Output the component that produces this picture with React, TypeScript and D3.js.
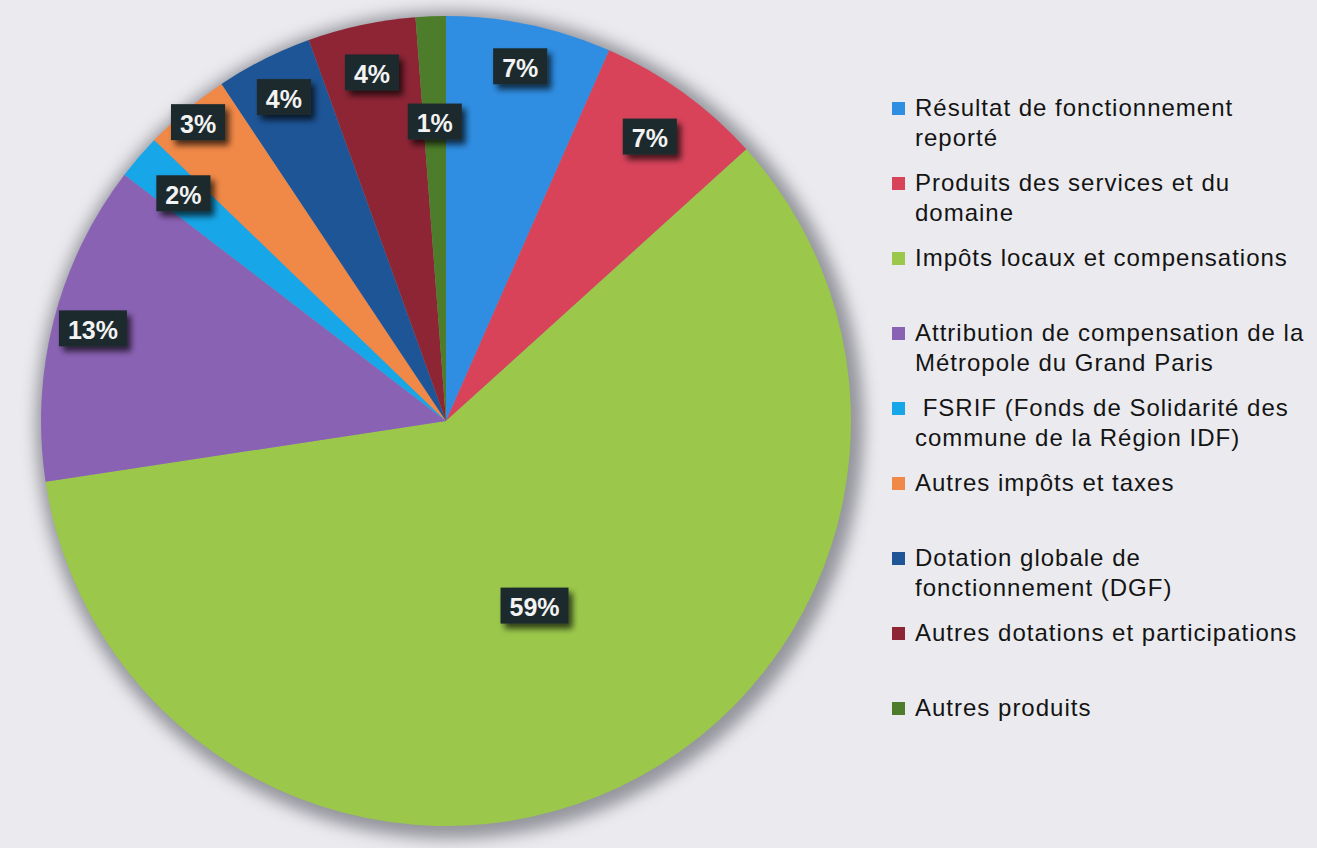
import * as d3 from "d3";

const categories = [
  "Résultat de fonctionnement reporté",
  "Produits des services et du domaine",
  "Impôts locaux et compensations",
  "Attribution de compensation de la Métropole du Grand Paris",
  "FSRIF (Fonds de Solidarité des commune de la Région IDF)",
  "Autres impôts et taxes",
  "Dotation globale de fonctionnement (DGF)",
  "Autres dotations et participations",
  "Autres produits",
];

// share of each slice
const values = [6.6, 6.7, 59.3, 12.8, 1.8, 3.45, 3.85, 4.3, 1.2];

const colors = [
  "#2f8de2",
  "#d8435a",
  "#9bc84b",
  "#8a62b4",
  "#17a6e8",
  "#f08847",
  "#1d5597",
  "#8d2535",
  "#4d7d2a",
];

// legend text, broken as in the original
const legendLines = [
  ["Résultat de fonctionnement", "reporté"],
  ["Produits des services et du", "domaine"],
  ["Impôts locaux et compensations"],
  ["Attribution de compensation de la", "Métropole du Grand Paris"],
  [" FSRIF (Fonds de Solidarité des", "commune de la Région IDF)"],
  ["Autres impôts et taxes"],
  ["Dotation globale de", "fonctionnement (DGF)"],
  ["Autres dotations et participations"],
  ["Autres produits"],
];

// label distance from centre, as a fraction of the radius (best-fit placement)
const labelRadius = [0.89, 0.86, 0.51, 0.9, 0.855, 0.955, 0.89, 0.875, 0.735];

const width = 1317;
const height = 848;
const cx = 446;
const cy = 421;
const radius = 405;
const font = "'Liberation Sans', Arial, sans-serif";

const total = d3.sum(values);
const pct = d3.format(".0%");

const pie = d3
  .pie<number>()
  .sort(null)
  .value((d) => d)
  .startAngle(0)
  .endAngle(2 * Math.PI);

const arc = d3.arc<d3.PieArcDatum<number>>().innerRadius(0).outerRadius(radius);

const legendX = 892;
const legendTop = 116;
const legendStep = 75;
const lineStep = 30;

export default function App() {
  const slices = pie(values);

  return (
    <div style={{ position: "fixed", left: 0, top: 0 }}>
      <svg width={width} height={height} style={{ display: "block" }}>
        <defs>
          <filter id="pieShadow" x="-20%" y="-20%" width="140%" height="140%">
            <feGaussianBlur stdDeviation="8" />
          </filter>
          <filter id="boxShadow" x="-30%" y="-30%" width="170%" height="170%">
            <feGaussianBlur in="SourceAlpha" stdDeviation="3" />
            <feOffset dx="4" dy="5" result="blur" />
            <feComponentTransfer>
              <feFuncA type="linear" slope="0.7" />
            </feComponentTransfer>
            <feMerge>
              <feMergeNode />
              <feMergeNode in="SourceGraphic" />
            </feMerge>
          </filter>
        </defs>

        <rect width={width} height={height} fill="#ebebef" />

        <circle
          cx={cx + 4}
          cy={cy + 4}
          r={radius + 9}
          fill="#85858e"
          opacity={0.85}
          filter="url(#pieShadow)"
        />

        <g transform={`translate(${cx},${cy})`}>
          {slices.map((s, i) => (
            <path key={categories[i]} d={arc(s) ?? ""} fill={colors[i]} />
          ))}

          {slices.map((s, i) => {
            const mid = (s.startAngle + s.endAngle) / 2;
            const r = labelRadius[i] * radius;
            const x = Math.sin(mid) * r;
            const y = -Math.cos(mid) * r;
            const text = pct(s.data / total);
            const fs = 25;
            const tw = fs * (0.556 * (text.length - 1) + 0.889);
            const bw = tw + 18;
            const bh = 36;
            return (
              <g key={`lbl-${i}`} transform={`translate(${x},${y})`}>
                <rect
                  x={-bw / 2}
                  y={-bh / 2 - 2}
                  width={bw}
                  height={bh}
                  fill="#1e2c2e"
                  filter="url(#boxShadow)"
                />
                <text
                  textAnchor="middle"
                  dy="0.35em"
                  fill="#f3f3f3"
                  fontFamily={font}
                  fontWeight="bold"
                  fontSize={fs}
                >
                  {text}
                </text>
              </g>
            );
          })}
        </g>

        <g fontFamily={font} fontSize={24} fill="#141414">
          {legendLines.map((lines, i) => {
            const base = legendTop + i * legendStep;
            return (
              <g key={`leg-${i}`}>
                <rect x={legendX} y={base - 14} width={13} height={13} fill={colors[i]} />
                {lines.map((line, j) => (
                  <text
                    key={j}
                    x={legendX + 23}
                    y={base + j * lineStep}
                    letterSpacing={1}
                    style={{ whiteSpace: "pre" }}
                  >
                    {line}
                  </text>
                ))}
              </g>
            );
          })}
        </g>
      </svg>
    </div>
  );
}
